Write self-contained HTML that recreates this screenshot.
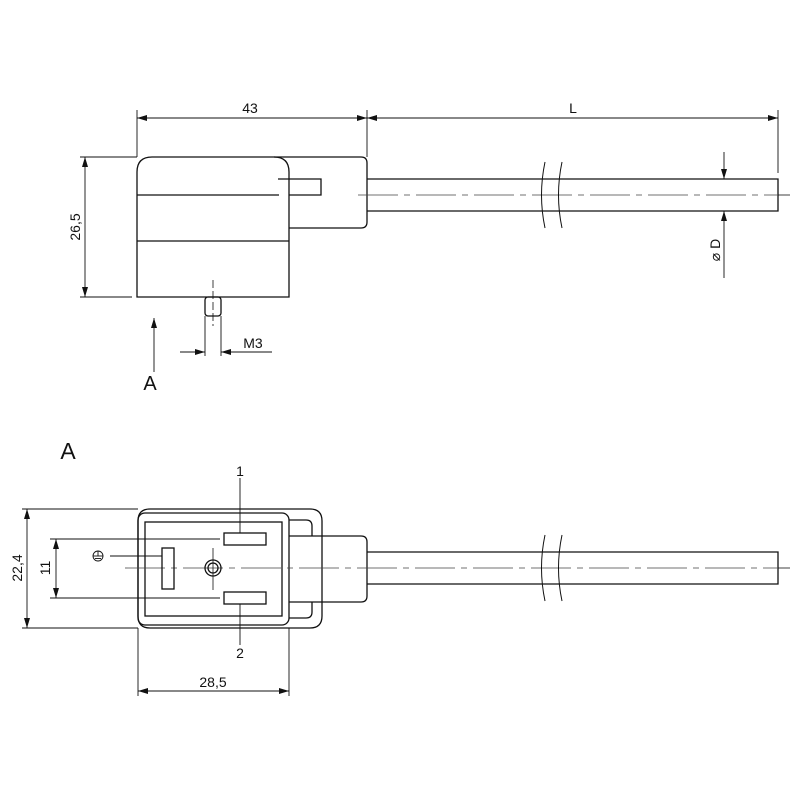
<!DOCTYPE html>
<html><head><style>body{margin:0;background:#fff}svg{display:block}</style></head><body>
<svg width="800" height="800" viewBox="0 0 800 800" xmlns="http://www.w3.org/2000/svg" font-family="Liberation Sans, sans-serif" fill="none" stroke="#111" stroke-width="1.3">
<defs>
<marker id="a" viewBox="0 0 10 6" refX="10" refY="3" markerWidth="10" markerHeight="6" orient="auto-start-reverse" markerUnits="userSpaceOnUse"><path d="M0,0L10,3L0,6z" fill="#111" stroke="none"/></marker>
</defs>
<!-- TOP VIEW -->
<path d="M137,297V172Q137,157 152,157H274Q289,157 289,172V297Z"/>
<line x1="137" y1="195" x2="279" y2="195"/>
<line x1="137" y1="241" x2="289" y2="241"/>
<path d="M278,179H321V195H289"/>
<path d="M274,157H361Q367,157 367,163V222Q367,228 361,228H289"/>
<path d="M367,179H778V211H367"/>
<path d="M358,195H778" stroke-dasharray="40,6,6,6" stroke-width="0.8" stroke="#444"/>
<line x1="778" y1="195" x2="790" y2="195" stroke-width="0.8"/>
<path d="M545,162Q538,195 545,228M562,162Q555,195 562,228" stroke-width="1"/>
<rect x="205" y="297" width="16" height="19" rx="3"/>
<line x1="213" y1="280" x2="213" y2="326" stroke-dasharray="8,3" stroke-width="0.8"/>
<!-- dims top -->
<g stroke-width="0.9">
<line x1="137" y1="110" x2="137" y2="157"/><line x1="367" y1="110" x2="367" y2="157"/><line x1="778" y1="110" x2="778" y2="173"/>
<line x1="137" y1="118" x2="367" y2="118" marker-start="url(#a)" marker-end="url(#a)"/>
<line x1="367" y1="118" x2="778" y2="118" marker-start="url(#a)" marker-end="url(#a)"/>
<line x1="80" y1="157" x2="137" y2="157"/><line x1="80" y1="297" x2="132" y2="297"/>
<line x1="85" y1="157" x2="85" y2="297" marker-start="url(#a)" marker-end="url(#a)"/>
<line x1="205" y1="316" x2="205" y2="356"/><line x1="221" y1="316" x2="221" y2="356"/>
<line x1="180" y1="352" x2="205" y2="352" marker-end="url(#a)"/>
<line x1="246" y1="352" x2="221" y2="352" marker-end="url(#a)"/>
<line x1="221" y1="352" x2="272" y2="352"/>
<line x1="154" y1="372" x2="154" y2="318" marker-end="url(#a)"/>
<line x1="724" y1="152" x2="724" y2="179" marker-end="url(#a)"/>
<line x1="724" y1="278" x2="724" y2="211" marker-end="url(#a)"/>
</g>
<g fill="#111" stroke="none" font-size="14">
<text x="250" y="113" text-anchor="middle">43</text>
<text x="573" y="113" text-anchor="middle">L</text>
<text x="253" y="348" text-anchor="middle">M3</text>
<text transform="translate(80,227) rotate(-90)" text-anchor="middle">26,5</text>
<text transform="translate(720,250) rotate(-90)" text-anchor="middle">⌀ D</text>
<text x="150" y="390" text-anchor="middle" font-size="20">A</text>
<text x="68" y="459" text-anchor="middle" font-size="23">A</text>
</g>
<!-- BOTTOM VIEW -->
<path d="M150,509H310Q322,509 322,521V616Q322,628 310,628H150Q138,628 138,616V521Q138,509 150,509Z"/>
<rect x="138" y="513" width="151" height="112" rx="7"/>
<rect x="145" y="522" width="137" height="94"/>
<path d="M289,520H306Q312,520 312,526V536M312,602V612Q312,618 306,618H289"/>
<path d="M289,536H361Q367,536 367,542V596Q367,602 361,602H289"/>
<path d="M367,552H778V584H367"/>
<path d="M125,568H778" stroke-dasharray="40,6,6,6" stroke-width="0.8" stroke="#444"/>
<line x1="778" y1="568" x2="790" y2="568" stroke-width="0.8"/>
<path d="M545,535Q538,568 545,601M562,535Q555,568 562,601" stroke-width="1"/>
<rect x="224" y="533" width="42" height="12"/>
<rect x="224" y="592" width="42" height="12"/>
<rect x="162" y="548" width="12" height="41"/>
<circle cx="213" cy="568" r="8"/><circle cx="213" cy="568" r="5"/>
<line x1="213" y1="548" x2="213" y2="590" stroke-width="0.8"/>
<g stroke-width="0.9">
<line x1="240" y1="478" x2="240" y2="533"/><line x1="240" y1="604" x2="240" y2="645"/>
<line x1="110" y1="556" x2="162" y2="556"/>
<circle cx="98" cy="556" r="5"/><line x1="93" y1="556" x2="103" y2="556"/><line x1="95" y1="558.5" x2="101" y2="558.5"/><line x1="98" y1="551" x2="98" y2="556"/>
<line x1="22" y1="509" x2="138" y2="509"/><line x1="22" y1="628" x2="138" y2="628"/>
<line x1="27" y1="509" x2="27" y2="628" marker-start="url(#a)" marker-end="url(#a)"/>
<line x1="50" y1="539" x2="220" y2="539"/><line x1="50" y1="598" x2="220" y2="598"/>
<line x1="56" y1="539" x2="56" y2="598" marker-start="url(#a)" marker-end="url(#a)"/>
<line x1="138" y1="628" x2="138" y2="696"/><line x1="289" y1="628" x2="289" y2="696"/>
<line x1="138" y1="691" x2="289" y2="691" marker-start="url(#a)" marker-end="url(#a)"/>
</g>
<g fill="#111" stroke="none" font-size="14">
<text x="240" y="476" text-anchor="middle">1</text>
<text x="240" y="658" text-anchor="middle">2</text>
<text x="213" y="687" text-anchor="middle">28,5</text>
<text transform="translate(22,568) rotate(-90)" text-anchor="middle">22,4</text>
<text transform="translate(50,568) rotate(-90)" text-anchor="middle">11</text>
</g>
</svg>
</body></html>
